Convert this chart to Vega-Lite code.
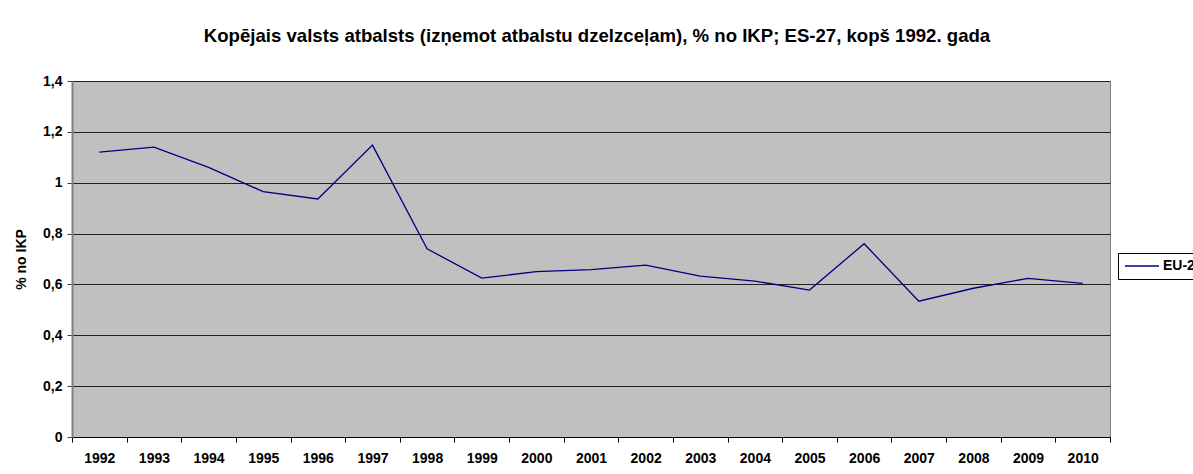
{
  "$schema": "https://vega.github.io/schema/vega-lite/v6.json",
  "autosize": "none",
  "padding": {"left": 72, "top": 81, "right": 83, "bottom": 37},
  "width": 1038,
  "height": 356,
  "background": "white",
  "title": {
    "text": "Kopējais valsts atbalsts (izņemot atbalstu dzelzceļam), % no IKP; ES-27, kopš 1992. gada",
    "font": "Liberation Sans",
    "fontSize": 18.6,
    "fontWeight": "bold",
    "color": "black",
    "anchor": "middle",
    "dx": 6,
    "offset": 28
  },
  "data": {
    "values": [
      {"year": "1992", "value": 1.12, "series": "EU-27"},
      {"year": "1993", "value": 1.14, "series": "EU-27"},
      {"year": "1994", "value": 1.06, "series": "EU-27"},
      {"year": "1995", "value": 0.965, "series": "EU-27"},
      {"year": "1996", "value": 0.936, "series": "EU-27"},
      {"year": "1997", "value": 1.148, "series": "EU-27"},
      {"year": "1998", "value": 0.74, "series": "EU-27"},
      {"year": "1999", "value": 0.625, "series": "EU-27"},
      {"year": "2000", "value": 0.65, "series": "EU-27"},
      {"year": "2001", "value": 0.658, "series": "EU-27"},
      {"year": "2002", "value": 0.676, "series": "EU-27"},
      {"year": "2003", "value": 0.633, "series": "EU-27"},
      {"year": "2004", "value": 0.613, "series": "EU-27"},
      {"year": "2005", "value": 0.578, "series": "EU-27"},
      {"year": "2006", "value": 0.76, "series": "EU-27"},
      {"year": "2007", "value": 0.534, "series": "EU-27"},
      {"year": "2008", "value": 0.585, "series": "EU-27"},
      {"year": "2009", "value": 0.624, "series": "EU-27"},
      {"year": "2010", "value": 0.604, "series": "EU-27"}
    ]
  },
  "mark": {"type": "line", "strokeWidth": 1.3, "interpolate": "linear"},
  "encoding": {
    "x": {
      "field": "year",
      "type": "ordinal",
      "bandPosition": 0.5,
      "scale": {"type": "band", "paddingInner": 0, "paddingOuter": 0},
      "axis": {
        "title": null,
        "labelAngle": 0,
        "tickBand": "extent",
        "labelFont": "Liberation Sans",
        "labelFontSize": 14,
        "labelFontWeight": "bold",
        "labelColor": "black",
        "labelPadding": 9,
        "tickSize": 5,
        "tickColor": "black",
        "domainColor": "black",
        "domainWidth": 1,
        "grid": false
      }
    },
    "y": {
      "field": "value",
      "type": "quantitative",
      "scale": {"domain": [0, 1.4], "nice": false},
      "axis": {
        "title": "% no IKP",
        "titleFont": "Liberation Sans",
        "titleFontSize": 14,
        "titleFontWeight": "bold",
        "titleColor": "black",
        "titlePadding": 14,
        "values": [0, 0.2, 0.4, 0.6, 0.8, 1, 1.2, 1.4],
        "labelExpr": "replace(format(datum.value, '.1~f'), '.', ',')",
        "labelFont": "Liberation Sans",
        "labelFontSize": 14,
        "labelFontWeight": "bold",
        "labelColor": "black",
        "labelPadding": 5,
        "tickSize": 5,
        "tickColor": "#404040",
        "domainColor": "#808080",
        "domainWidth": 2,
        "grid": true,
        "gridColor": "#202020",
        "gridWidth": 1,
        "gridOpacity": 1
      }
    },
    "color": {
      "field": "series",
      "type": "nominal",
      "scale": {"range": ["#000080"]},
      "legend": {
        "title": null,
        "orient": "none",
        "legendX": 1046,
        "legendY": 172,
        "symbolType": "stroke",
        "symbolSize": 1156,
        "symbolStrokeWidth": 1.3,
        "clipHeight": 14,
        "labelOffset": 3,
        "labelFont": "Liberation Sans",
        "labelFontSize": 14,
        "labelFontWeight": "bold",
        "labelColor": "black",
        "strokeColor": "black",
        "padding": 6,
        "fillColor": "white"
      }
    }
  },
  "config": {
    "view": {"fill": "#C0C0C0", "stroke": "#808080", "strokeWidth": 1},
    "legend": {"titleLimit": 0}
  }
}
